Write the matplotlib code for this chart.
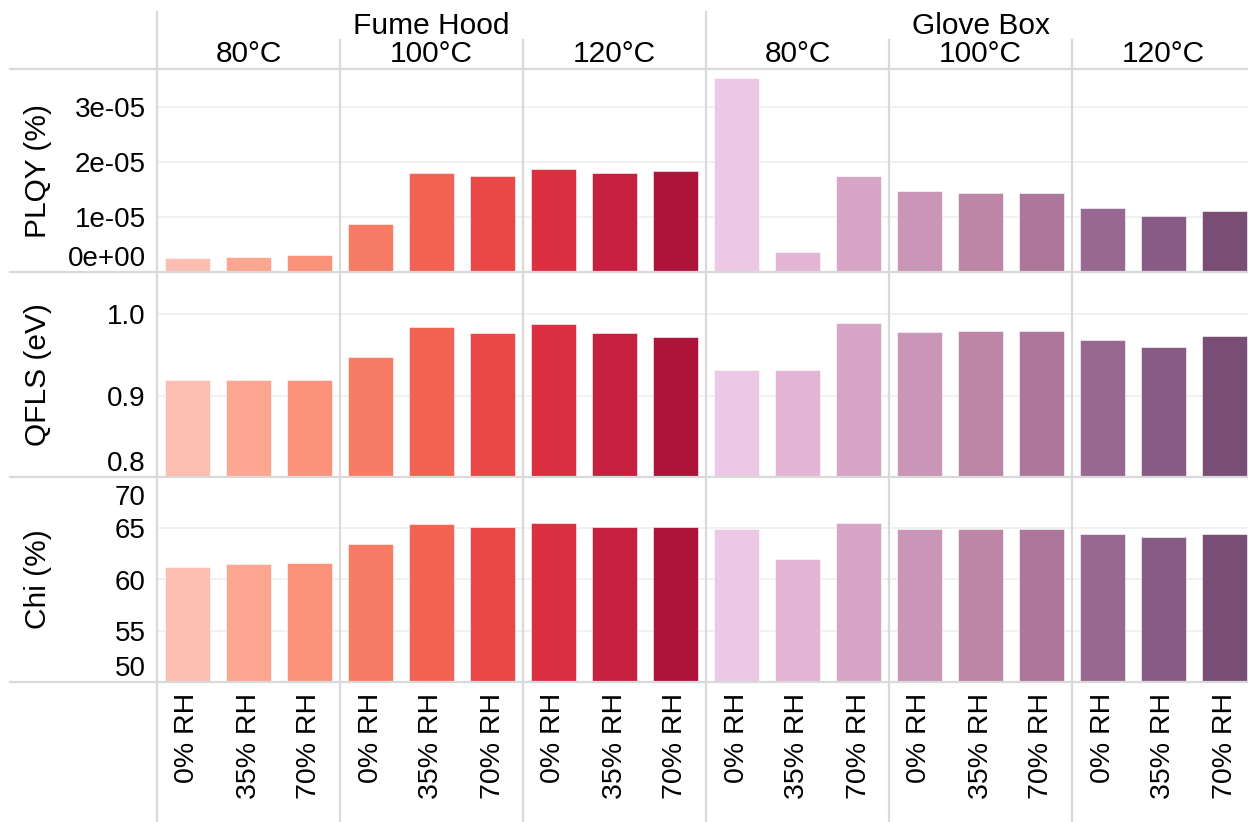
import numpy as np
import matplotlib
matplotlib.use("Agg")
import matplotlib.pyplot as plt
from matplotlib.lines import Line2D
from matplotlib.transforms import ScaledTranslation

plt.rcParams['font.family'] = ['Liberation Sans', 'DejaVu Sans']

# data
locations = ["Fume Hood", "Glove Box"]
temps = ["80°C", "100°C", "120°C"]
humidity = ["0% RH", "35% RH", "70% RH"]

plqy = [0.25e-5, 0.28e-5, 0.31e-5, 0.87e-5, 1.80e-5, 1.75e-5, 1.87e-5, 1.80e-5, 1.84e-5,
        3.53e-5, 0.36e-5, 1.75e-5, 1.47e-5, 1.44e-5, 1.44e-5, 1.16e-5, 1.02e-5, 1.11e-5]
qfls = [0.919, 0.919, 0.919, 0.947, 0.985, 0.977, 0.988, 0.977, 0.972,
        0.931, 0.931, 0.989, 0.978, 0.980, 0.980, 0.968, 0.960, 0.973]
chi = [61.2, 61.5, 61.6, 63.5, 65.4, 65.1, 65.5, 65.1, 65.1,
       64.9, 62.0, 65.5, 64.9, 64.9, 64.9, 64.4, 64.1, 64.4]

colors = ["#FDBEB2", "#FCA692", "#FB937B", "#F77C66", "#F26352", "#E94847", "#DA3041", "#C71F3E", "#AE143A",
          "#EDC8E4", "#E4B4D4", "#D7A6C6", "#C996B7", "#BD85A6", "#AD769B", "#986892", "#885B87", "#7A4D75"]

rows = [
    ("PLQY (%)", plqy, (0, 3.7e-5), [0, 1e-5, 2e-5, 3e-5], ["0e+00", "1e-05", "2e-05", "3e-05"]),
    ("QFLS (eV)", qfls, (0.8, 1.052), [0.8, 0.9, 1.0], ["0.8", "0.9", "1.0"]),
    ("Chi (%)", chi, (50, 70), [50, 55, 60, 65, 70], ["50", "55", "60", "65", "70"]),
]

W, H = 1248, 822
def fx(px): return px / W
def fy(py): return 1 - py / H

fig = plt.figure(figsize=(W / 100, H / 100), dpi=100)
line_col = "#d9d9d9"
x0, x1 = 157, 1255
bounds = [69, 272, 477, 682]
xpos = np.arange(18)

for r, (name, vals, ylim, ticks, tlabels) in enumerate(rows):
    top, bot = bounds[r], bounds[r + 1]
    ax = fig.add_axes([fx(x0), fy(bot), fx(x1) - fx(x0), (bot - top) / H])
    ax.bar(xpos, vals, width=0.75, color=colors, edgecolor="white", linewidth=0.4, zorder=2)
    ax.set_xlim(-0.5, 17.5)
    ax.set_ylim(ylim)
    ax.set_yticks(ticks)
    ax.set_yticklabels(tlabels, fontsize=20)
    ax.grid(axis="y", color="#efefef", linewidth=1.2, zorder=0)
    for s in ax.spines.values():
        s.set_visible(False)
    ax.tick_params(axis="y", length=0, pad=8)
    ylabs = ax.get_yticklabels()
    ylabs[0].set_va("bottom")
    if name == "Chi (%)":
        # top label sits a bit below the panel edge
        ylabs[-1].set_va("top")
        ylabs[-1].set_transform(ylabs[-1].get_transform()
                                + ScaledTranslation(0, -8 / 100, fig.dpi_scale_trans))
    ax.set_ylabel(name, fontsize=21.5, va="center")
    ax.yaxis.set_label_coords((38 - x0) / (x1 - x0), 0.5)
    ax.set_xticks(xpos)
    if r == 2:
        ax.set_xticklabels(humidity * 6, rotation=90, fontsize=20.5, va="top")
        ax.tick_params(axis="x", length=0, pad=8)
    else:
        ax.set_xticklabels([])
        ax.tick_params(axis="x", length=0)
    ax.patch.set_alpha(0)

# frame lines of the facet layout
slot = (x1 - x0) / 18
for yb in bounds:
    fig.add_artist(Line2D([fx(10), 1], [fy(yb), fy(yb)], color=line_col, lw=1.6))
for g in range(6):
    xb = x0 + g * 3 * slot
    ystart = 12 if g in (0, 3) else 40
    fig.add_artist(Line2D([fx(xb), fx(xb)], [fy(ystart), 0], color=line_col, lw=1.6))
    fig.text(fx(xb + 1.5 * slot), fy(54), temps[g % 3], fontsize=21.5, ha="center", va="center")
for k, loc in enumerate(locations):
    xc = x0 + (k * 9 + 4.5) * slot
    fig.text(fx(xc), fy(26), loc, fontsize=21.5, ha="center", va="center")

fig.savefig("out.png", dpi=100)
